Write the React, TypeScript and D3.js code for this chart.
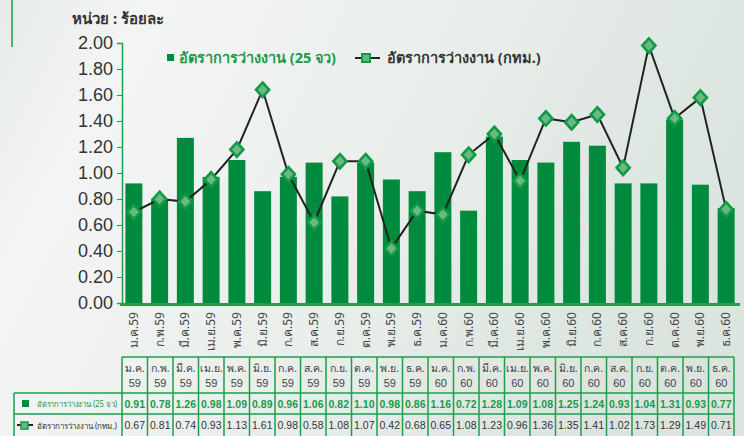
import { useEffect, useRef } from 'react'
import * as d3 from 'd3'

// category labels (month / Buddhist year)
const monthLabels = ['ม.ค.', 'ก.พ.', 'มี.ค.', 'เม.ย.', 'พ.ค.', 'มิ.ย.', 'ก.ค.', 'ส.ค.', 'ก.ย.', 'ต.ค.', 'พ.ย.', 'ธ.ค.',
  'ม.ค.', 'ก.พ.', 'มี.ค.', 'เม.ย.', 'พ.ค.', 'มิ.ย.', 'ก.ค.', 'ส.ค.', 'ก.ย.', 'ต.ค.', 'พ.ย.', 'ธ.ค.']
const yearLabels = ['59', '59', '59', '59', '59', '59', '59', '59', '59', '59', '59', '59',
  '60', '60', '60', '60', '60', '60', '60', '60', '60', '60', '60', '60']

const rate25 = [0.92, 0.80, 1.27, 0.97, 1.10, 0.86, 0.97, 1.08, 0.82, 1.08, 0.95, 0.86,
  1.16, 0.71, 1.28, 1.10, 1.08, 1.24, 1.21, 0.92, 0.92, 1.41, 0.91, 0.73]
const rateBkk = [0.70, 0.80, 0.78, 0.95, 1.18, 1.64, 0.99, 0.62, 1.09, 1.09, 0.42, 0.71,
  0.68, 1.14, 1.30, 0.94, 1.42, 1.39, 1.45, 1.04, 1.98, 1.42, 1.58, 0.72]

// table figures
const table25 = ['0.91', '0.78', '1.26', '0.98', '1.09', '0.89', '0.96', '1.06', '0.82', '1.10', '0.98', '0.86',
  '1.16', '0.72', '1.28', '1.09', '1.08', '1.25', '1.24', '0.93', '1.04', '1.31', '0.93', '0.77']
const tableBkk = ['0.67', '0.81', '0.74', '0.93', '1.13', '1.61', '0.98', '0.58', '1.08', '1.07', '0.42', '0.68',
  '0.65', '1.08', '1.23', '0.96', '1.36', '1.35', '1.41', '1.02', '1.73', '1.29', '1.49', '0.71']

const yTicks = [0, 0.2, 0.4, 0.6, 0.8, 1.0, 1.2, 1.4, 1.6, 1.8, 2.0]
const seriesNames = ['อัตราการว่างงาน (25 จว)', 'อัตราการว่างงาน (กทม.)']
const unitLabel = 'หน่วย : ร้อยละ'

export default function App() {
  const svgRef = useRef<SVGSVGElement>(null)

  useEffect(() => {
    const width = 744
    const height = 436
    const font = "'Noto Sans', 'DejaVu Sans', sans-serif"
    const numFont = "'Liberation Sans', Arial, sans-serif"
    const green = '#008a3e'
    const lineGreen = '#1f9e4c'
    const dark = '#333'

    const svg = d3.select(svgRef.current)
      .attr('width', width)
      .attr('height', height)
      .style('font-family', font)
    svg.selectAll('*').remove()

    // background
    const defs = svg.append('defs')
    const grad = defs.append('linearGradient').attr('id', 'bg')
      .attr('x1', '0').attr('y1', '0').attr('x2', '1').attr('y2', '0.3')
    grad.append('stop').attr('offset', '0').attr('stop-color', '#e6ebe8')
    grad.append('stop').attr('offset', '0.18').attr('stop-color', '#f3f5f4')
    grad.append('stop').attr('offset', '0.55').attr('stop-color', '#eaefec')
    grad.append('stop').attr('offset', '1').attr('stop-color', '#dbe4de')
    svg.append('rect').attr('width', width).attr('height', height).attr('fill', 'url(#bg)')

    svg.append('line').attr('x1', 12).attr('x2', 12).attr('y1', 0).attr('y2', 47)
      .attr('stroke', lineGreen).attr('stroke-width', 1.5)

    const x = d3.scaleBand<number>()
      .domain(d3.range(rate25.length))
      .range([121, 739])
      .paddingInner(0.34)
      .paddingOuter(0.17)

    const y = d3.scaleLinear().domain([0, 2]).range([303, 43])

    // unit label
    svg.append('text').attr('x', 72).attr('y', 24)
      .attr('font-size', 15).attr('font-weight', 700).attr('fill', dark)
      .text(unitLabel)

    // Y axis
    const yAxis = svg.append('g')
      .attr('transform', 'translate(122,0)')
      .call(d3.axisLeft(y).tickValues(yTicks).tickFormat(d3.format('.2f')).tickSize(5).tickPadding(4))
    yAxis.select('.domain').attr('stroke', lineGreen).attr('stroke-width', 1.5)
    yAxis.selectAll('.tick line').attr('stroke', lineGreen)
    yAxis.selectAll('.tick text').attr('fill', dark).attr('font-size', 18)
      .attr('font-family', numFont)

    // Bars
    svg.append('g').selectAll('rect')
      .data(rate25)
      .join('rect')
      .attr('x', (d, i) => x(i)!)
      .attr('y', d => y(d))
      .attr('width', x.bandwidth())
      .attr('height', d => y(0) - y(d))
      .attr('fill', green)

    // X axis band
    svg.append('line').attr('x1', 120).attr('x2', 740).attr('y1', 304.5).attr('y2', 304.5)
      .attr('stroke', lineGreen).attr('stroke-width', 3)

    // Line
    const line = d3.line<number>()
      .x((d, i) => x(i)! + x.bandwidth() / 2)
      .y(d => y(d))
    svg.append('path').datum(rateBkk)
      .attr('d', line)
      .attr('fill', 'none')
      .attr('stroke', '#222')
      .attr('stroke-width', 2)

    const diamond = d3.symbol().type(d3.symbolDiamond2).size(110)
    svg.append('g').selectAll('path')
      .data(rateBkk)
      .join('path')
      .attr('d', diamond)
      .attr('transform', (d, i) => `translate(${x(i)! + x.bandwidth() / 2},${y(d)}) scale(1,1.1)`)
      .attr('fill', '#6cb883')
      .attr('stroke', '#0f9a45')
      .attr('stroke-width', 2.5)

    // legend
    const lg = svg.append('g')
    lg.append('rect').attr('x', 167).attr('y', 54).attr('width', 7).attr('height', 7).attr('fill', green)
    lg.append('text').attr('x', 179).attr('y', 63).attr('font-size', 14.5).attr('font-weight', 700)
      .attr('fill', '#1a9a48').text(seriesNames[0])
    lg.append('line').attr('x1', 355).attr('x2', 380).attr('y1', 58).attr('y2', 58)
      .attr('stroke', '#222').attr('stroke-width', 2)
    lg.append('rect').attr('x', 362).attr('y', 54).attr('width', 8).attr('height', 8)
      .attr('fill', '#6cb883').attr('stroke', '#0f9a45').attr('stroke-width', 2)
    lg.append('text').attr('x', 387).attr('y', 63).attr('font-size', 14.5).attr('font-weight', 700)
      .attr('fill', dark).text(seriesNames[1])

    // rotated category labels
    svg.append('g').selectAll('text')
      .data(monthLabels)
      .join('text')
      .attr('transform', (d, i) => `translate(${x(i)! + x.bandwidth() / 2 + 4},312) rotate(-90)`)
      .attr('text-anchor', 'end')
      .attr('font-size', 12)
      .attr('fill', '#444')
      .text((d, i) => d + yearLabels[i])

    // data table
    const tx = d3.scaleBand<number>().domain(d3.range(rate25.length)).range([122, 734])
    const rows = [357, 393, 414, 436]
    const tbl = svg.append('g')
    const border = (x1: number, y1: number, x2: number, y2: number) =>
      tbl.append('line').attr('x1', x1).attr('y1', y1).attr('x2', x2).attr('y2', y2)
        .attr('stroke', lineGreen).attr('stroke-width', 1.5)

    border(122, rows[0], 734, rows[0])
    border(14, rows[1], 734, rows[1])
    border(14, rows[2], 734, rows[2])
    border(14, rows[1], 14, rows[3])
    d3.range(rate25.length + 1).forEach(i => {
      const xx = i < rate25.length ? tx(i)! : 734
      border(xx, rows[0], xx, rows[3])
    })

    const cx = (i: number) => tx(i)! + tx.bandwidth() / 2
    tbl.append('g').selectAll('text')
      .data(monthLabels)
      .join('text')
      .attr('x', (d, i) => cx(i)).attr('y', 372)
      .attr('text-anchor', 'middle').attr('font-size', 10.5).attr('fill', '#444')
      .text(d => d)
    tbl.append('g').selectAll('text')
      .data(yearLabels)
      .join('text')
      .attr('x', (d, i) => cx(i)).attr('y', 387)
      .attr('text-anchor', 'middle').attr('font-size', 11).attr('fill', '#444')
      .attr('font-family', numFont)
      .text(d => d)
    tbl.append('g').selectAll('text')
      .data(table25)
      .join('text')
      .attr('x', (d, i) => cx(i)).attr('y', 408)
      .attr('text-anchor', 'middle').attr('font-size', 10.5).attr('font-weight', 700).attr('fill', '#1a9a48')
      .attr('font-family', numFont)
      .text(d => d)
    tbl.append('g').selectAll('text')
      .data(tableBkk)
      .join('text')
      .attr('x', (d, i) => cx(i)).attr('y', 429)
      .attr('text-anchor', 'middle').attr('font-size', 10.5).attr('fill', dark)
      .attr('font-family', numFont)
      .text(d => d)

    // row labels
    tbl.append('rect').attr('x', 22).attr('y', 400).attr('width', 7).attr('height', 7).attr('fill', green)
    tbl.append('text').attr('x', 37).attr('y', 407).attr('font-size', 8).attr('fill', '#1a9a48')
      .attr('textLength', 80).attr('lengthAdjust', 'spacingAndGlyphs')
      .text(seriesNames[0])
    tbl.append('line').attr('x1', 17).attr('x2', 33).attr('y1', 425).attr('y2', 425)
      .attr('stroke', '#222').attr('stroke-width', 2)
    tbl.append('rect').attr('x', 21).attr('y', 422).attr('width', 7).attr('height', 7)
      .attr('fill', '#6cb883').attr('stroke', '#0f9a45').attr('stroke-width', 1.5)
    tbl.append('text').attr('x', 37).attr('y', 429).attr('font-size', 8).attr('fill', dark)
      .attr('textLength', 80).attr('lengthAdjust', 'spacingAndGlyphs')
      .text(seriesNames[1])
  }, [])

  return (
    <div>
      <svg ref={svgRef} style={{ position: 'absolute', left: 0, top: 0 }}></svg>
    </div>
  )
}
